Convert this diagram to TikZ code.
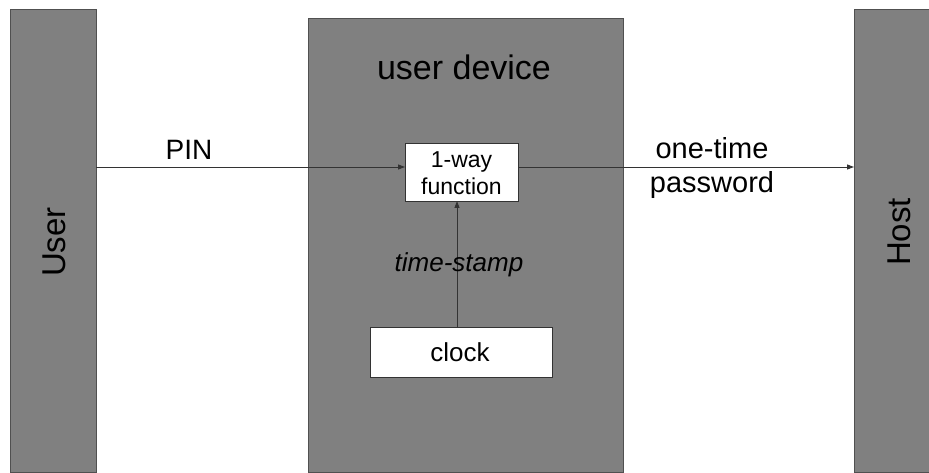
\documentclass[tikz,border=0pt]{standalone}
\usepackage{fontspec}
\setmainfont{Liberation Sans}
\usetikzlibrary{arrows.meta}
\definecolor{barfill}{HTML}{808080}
\definecolor{barline}{HTML}{505050}
\definecolor{wireline}{HTML}{333333}
\begin{document}
\begin{tikzpicture}[x=1pt,y=-1pt,
  bar/.style={draw=barline,line width=1pt,fill=barfill,minimum width=#1,inner sep=0pt,outer sep=0pt},
  whitebox/.style={draw=wireline,line width=0.8pt,fill=white,inner sep=0pt,outer sep=0pt},
  wire/.style={draw=wireline,line width=0.9pt,-{Triangle[length=7pt,width=5pt]}},
  lbl/.style={inner sep=0pt,anchor=base}]
\useasboundingbox (0,0) rectangle (929,473);
\node[bar=86pt,minimum height=462pt] (user) at (53,241) {};
\node[bar=315pt,minimum height=453pt] (device) at (465.5,245.5) {};
\node[bar=86pt,minimum height=462pt] (host) at (897,241) {};
\node[whitebox,minimum width=113pt,minimum height=58pt] (func) at (461.5,172) {};
\node[whitebox,minimum width=182pt,minimum height=50pt] (clock) at (461,352) {};
% labels
\node[lbl,font=\fontsize{33}{36}\selectfont,rotate=90] (userlbl) at (65,242) {User};
\node[lbl,font=\fontsize{33}{36}\selectfont,rotate=90] (hostlbl) at (910,232) {Host};
\node[lbl,font=\fontsize{34}{38}\selectfont] (devlbl) at (464,80) {user device};
\node[lbl,font=\fontsize{23}{26}\selectfont] (f1) at (461.5,168) {1-way};
\node[lbl,font=\fontsize{23}{26}\selectfont] (f2) at (461.5,195) {function};
\node[lbl,font=\fontsize{26}{30}\selectfont] (clocklbl) at (460,361) {clock};
\node[lbl,font=\fontsize{28}{32}\selectfont] (pinlbl) at (189,160) {PIN};
\node[lbl,font=\fontsize{29}{33}\selectfont] (otp1) at (712,159) {one-time};
\node[lbl,font=\fontsize{29}{33}\selectfont] (otp2) at (712,193) {password};
% connectors
\coordinate (pinstart) at (user.east |- 0,167);
\draw[wire] (pinstart) -- (func.west |- pinstart);
\draw[wire] (func.east |- pinstart) -- (host.west |- pinstart);
\draw[wire] (clock.north -| 457,0) -- (func.south -| 457,0);
\node[lbl,font=\itshape\fontsize{26}{30}\selectfont] (tslbl) at (459,272) {time-stamp};
\end{tikzpicture}
\end{document}
